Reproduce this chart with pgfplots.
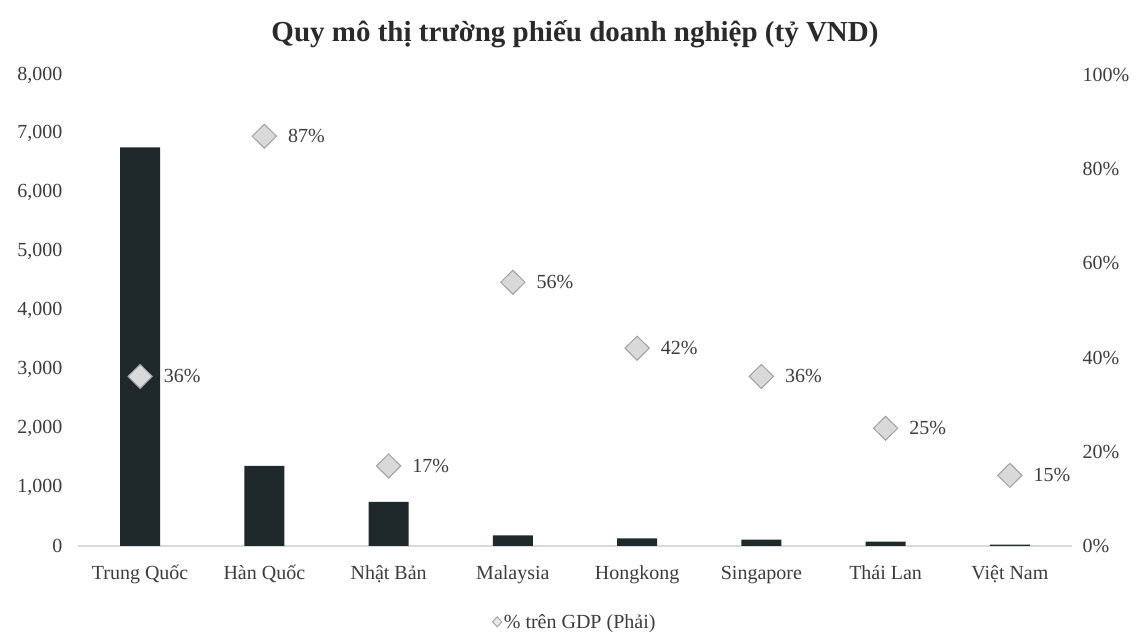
\documentclass[border=0pt]{standalone}
\usepackage{fontspec}
\setmainfont{Liberation Serif}
\usepackage{pgfplots}
\usepackage{pgfplotstable}
\pgfplotsset{compat=1.18}
\definecolor{Bar}{HTML}{1F292C}
\definecolor{Ink}{HTML}{3C3C3C}
\definecolor{Head}{HTML}{2A2A2A}
\definecolor{Base}{HTML}{D9D9D9}
\definecolor{DiaFill}{HTML}{D9D9D9}
\definecolor{DiaEdge}{HTML}{A0A0A0}

% idx, market size (ty VND), % of GDP
\pgfplotstableread{
idx size gdp
0 6770 36
1 1360 87
2 750 17
3 180 56
4 130 42
5 110 36
6 75 25
7 25 15
}\marketdata

\begin{document}
\begin{tikzpicture}
\pgfplotsset{
  base/.style={
    scale only axis, width=994pt, height=471pt,
    at={(0pt,0pt)}, anchor=south west,
    xmin=-0.5, xmax=7.5,
    axis line style={draw=none},
    major tick length=0pt,
    tick label style={font=\fontsize{20}{24}\selectfont, color=Ink},
    /pgf/number format/assume math mode=true,
    clip=false,
  }
}
\begin{axis}[base,
  ymin=0, ymax=8000,
  ytick={0,1000,...,8000},
  scaled y ticks=false,
  /pgf/number format/1000 sep={,},
  yticklabel style={xshift=-12pt},
  xtick={0,...,7},
  xticklabels={Trung Quốc, Hàn Quốc, Nhật Bản, Malaysia, Hongkong, Singapore, Thái Lan, Việt Nam},
  xticklabel style={anchor=base, yshift=-34pt},
  title={Quy mô thị trường phiếu doanh nghiệp (tỷ VND)},
  title style={font=\fontsize{29}{34}\selectfont\bfseries, color=Head,
    at={(0.5,1)}, anchor=base, yshift=27pt},
]
  \draw[Base, line width=1.5pt] (rel axis cs:0,0) -- (rel axis cs:1,0);
  \addplot[ybar, bar width=40pt, fill=Bar, draw=none] table[x=idx, y=size] {\marketdata};
\end{axis}
\begin{axis}[base,
  ymin=0, ymax=100,
  ytick={0,20,...,100},
  yticklabel pos=right,
  yticklabel={\pgfmathprintnumber{\tick}\%},
  yticklabel style={xshift=7pt},
  xtick=\empty,
  legend style={at={(0.5,-0.161)}, anchor=center, draw=none, fill=none,
    font=\fontsize{20}{24}\selectfont, text=Ink},
  legend image code/.code={
    \draw[mark=diamond*, mark size=5pt,
      mark options={xscale=1.25, fill=DiaFill!60, draw=DiaEdge, line width=0.9pt}]
      plot coordinates {(-5pt,0pt)};},
]
  \addplot[only marks, mark=diamond*, mark size=12pt,
    mark options={xscale=1.35, fill=DiaFill, draw=DiaEdge, line width=1pt},
    point meta=y,
    nodes near coords={\pgfmathprintnumber{\pgfplotspointmeta}\%},
    nodes near coords style={anchor=west, xshift=20pt,
      font=\fontsize{20}{24}\selectfont, color=Ink}]
    table[x=idx, y=gdp] {\marketdata};
  \addlegendentry{\% trên GDP (Phải)}
\end{axis}
\path[use as bounding box] (-78pt,-91pt) rectangle (1063pt,546pt);
\end{tikzpicture}
\end{document}
